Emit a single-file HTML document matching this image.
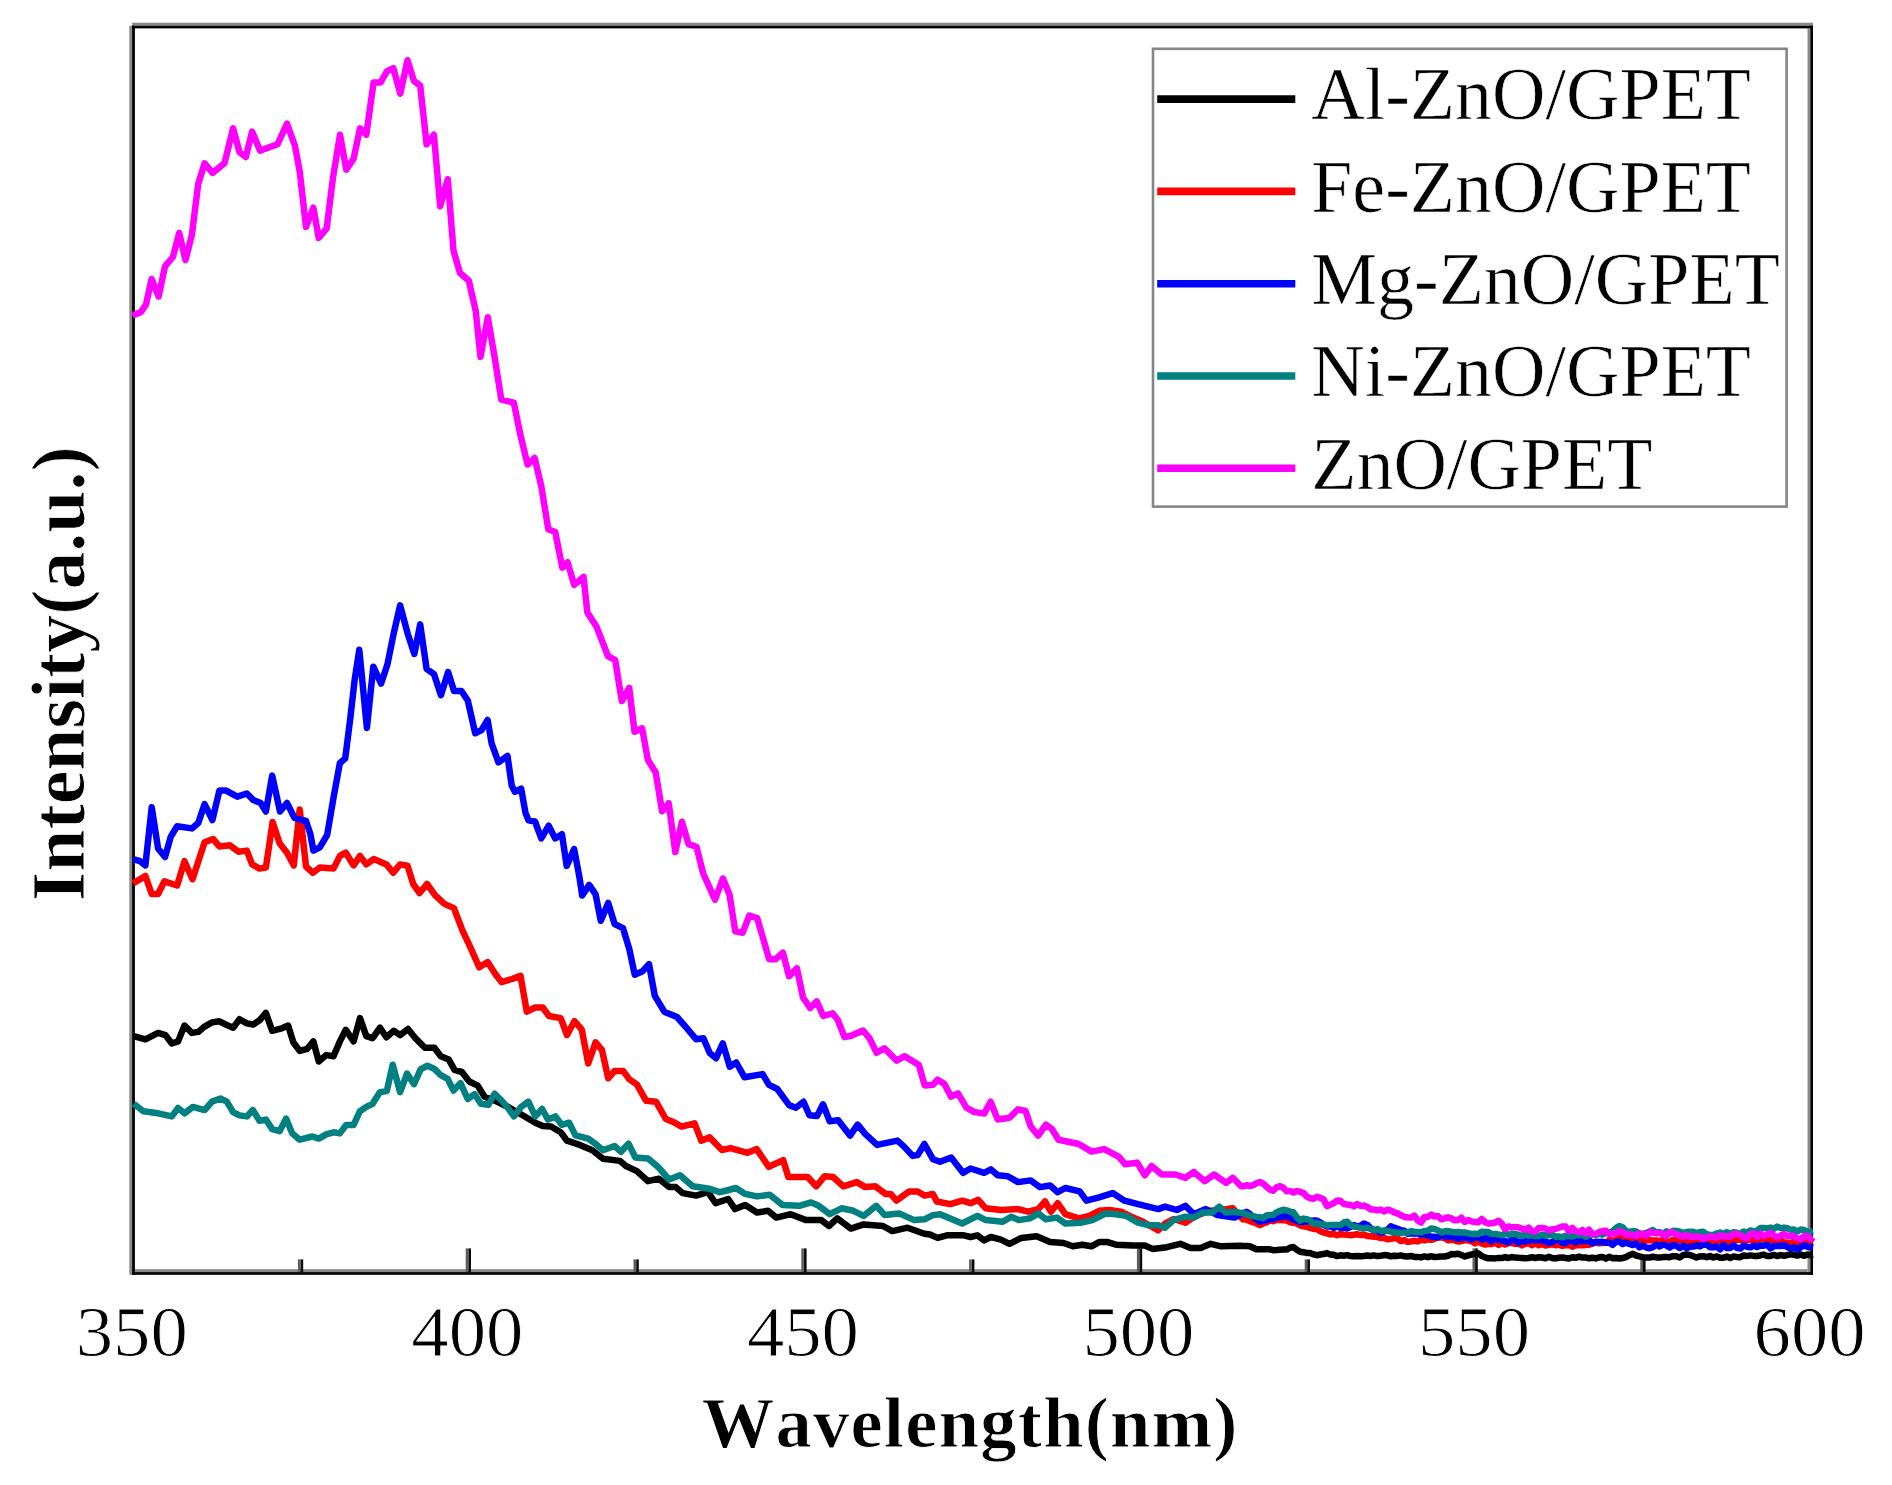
<!DOCTYPE html>
<html lang="en"><head><meta charset="utf-8"><title>PL spectra</title>
<style>html,body{margin:0;padding:0;background:#fff}body{width:1892px;height:1485px;overflow:hidden}svg{display:block}.s{font-family:"Liberation Serif",serif;fill:#000;font-kerning:none}.b{font-weight:bold}.t{stroke:#fff;stroke-width:0.9px}.l{stroke:#fff;stroke-width:0.6px}</style></head><body>
<svg width="1892" height="1485" viewBox="0 0 1892 1485">
<rect width="1892" height="1485" fill="#fff"/>
<rect x="129.3" y="25.7" width="2.8" height="1249.1" fill="#8a8a8a"/>
<rect x="132.1" y="22.7" width="1680.9" height="3.0" fill="#8a8a8a"/>
<rect x="1807.5" y="28.4" width="2.8" height="1243.7" fill="#8a8a8a"/>
<rect x="134.9" y="1269.2" width="1672.6" height="2.9" fill="#8a8a8a"/>
<rect x="132.1" y="25.7" width="2.8" height="1249.1" fill="#000"/>
<rect x="132.1" y="25.7" width="1680.9" height="2.7" fill="#000"/>
<rect x="1810.3" y="25.7" width="2.7" height="1249.1" fill="#000"/>
<rect x="132.1" y="1272.1" width="1680.9" height="2.7" fill="#000"/>
<rect x="297.9" y="1259.4" width="2.6" height="12.7" fill="#5e5e5e"/>
<rect x="300.6" y="1259.4" width="2.6" height="12.7" fill="#0c0c0c"/>
<rect x="465.7" y="1248.4" width="2.6" height="23.7" fill="#5e5e5e"/>
<rect x="468.4" y="1248.4" width="2.6" height="23.7" fill="#0c0c0c"/>
<rect x="633.5" y="1259.4" width="2.6" height="12.7" fill="#5e5e5e"/>
<rect x="636.2" y="1259.4" width="2.6" height="12.7" fill="#0c0c0c"/>
<rect x="801.3" y="1248.4" width="2.6" height="23.7" fill="#5e5e5e"/>
<rect x="804.0" y="1248.4" width="2.6" height="23.7" fill="#0c0c0c"/>
<rect x="969.1" y="1259.4" width="2.6" height="12.7" fill="#5e5e5e"/>
<rect x="971.8" y="1259.4" width="2.6" height="12.7" fill="#0c0c0c"/>
<rect x="1136.9" y="1248.4" width="2.7" height="23.7" fill="#5e5e5e"/>
<rect x="1139.5" y="1248.4" width="2.7" height="23.7" fill="#0c0c0c"/>
<rect x="1304.7" y="1259.4" width="2.7" height="12.7" fill="#5e5e5e"/>
<rect x="1307.3" y="1259.4" width="2.7" height="12.7" fill="#0c0c0c"/>
<rect x="1472.5" y="1248.4" width="2.7" height="23.7" fill="#5e5e5e"/>
<rect x="1475.1" y="1248.4" width="2.7" height="23.7" fill="#0c0c0c"/>
<rect x="1640.3" y="1259.4" width="2.7" height="12.7" fill="#5e5e5e"/>
<rect x="1642.9" y="1259.4" width="2.7" height="12.7" fill="#0c0c0c"/>
<g fill="none" stroke-linejoin="round" stroke-linecap="butt" stroke-width="6.5">
<polyline stroke="#000000" points="133.7,1036.1 145.4,1039.3 158.1,1032.9 165.5,1035.1 171.8,1043.5 178.1,1041.4 184.5,1025.5 191.9,1032.9 198.2,1031.9 204.6,1026.6 212.0,1022.4 219.4,1021.3 225.7,1024.5 233.1,1027.7 239.5,1019.2 246.8,1023.4 253.2,1024.5 259.5,1020.3 265.9,1012.9 272.2,1030.8 280.7,1028.7 288.1,1025.5 293.4,1042.5 299.7,1050.9 307.1,1048.8 313.4,1041.4 318.7,1061.5 326.1,1055.1 333.5,1056.2 339.9,1041.4 345.8,1029.8 353.6,1041.4 360.0,1018.1 366.3,1036.1 372.6,1038.2 380.0,1027.7 386.4,1037.2 393.8,1030.8 400.1,1035.1 408.0,1029.0 414.8,1037.6 424.9,1047.7 434.4,1047.7 440.8,1056.2 448.7,1059.4 454.5,1069.9 461.9,1072.0 469.3,1081.5 477.7,1085.7 484.6,1096.8 498.0,1102.0 510.0,1108.0 522.6,1115.3 535.3,1122.7 542.7,1125.9 551.0,1126.5 560.7,1132.2 567.0,1140.7 579.7,1144.9 592.4,1150.2 603.0,1158.7 620.0,1160.9 625.9,1166.0 636.9,1171.1 647.9,1181.2 658.9,1178.7 669.0,1187.1 675.8,1187.1 682.6,1193.1 696.1,1195.6 707.9,1192.2 715.6,1203.2 728.2,1199.0 735.0,1209.1 745.2,1204.9 757.0,1212.5 768.0,1210.8 776.4,1217.6 790.8,1214.2 806.0,1220.1 821.3,1220.1 828.9,1226.0 837.3,1218.4 850.9,1228.6 863.6,1224.4 883.0,1226.0 892.3,1231.1 907.5,1227.7 924.4,1233.7 930.0,1234.5 937.6,1237.9 946.9,1235.3 963.8,1235.3 970.6,1237.0 977.4,1235.3 984.1,1240.4 990.9,1237.0 1001.0,1239.6 1009.5,1243.8 1021.3,1237.9 1036.6,1236.2 1050.1,1242.1 1063.6,1243.0 1072.9,1246.3 1082.2,1244.7 1091.5,1246.3 1099.1,1242.1 1107.6,1242.1 1116.0,1244.7 1133.0,1245.5 1144.8,1245.5 1152.4,1248.9 1166.8,1247.2 1180.3,1243.8 1190.5,1248.0 1200.6,1248.0 1210.8,1243.8 1220.9,1246.3 1240.0,1245.7 1243.0,1246.0 1246.4,1245.9 1249.7,1246.2 1253.1,1247.8 1256.4,1249.3 1259.8,1249.2 1263.2,1249.3 1266.5,1249.2 1269.9,1249.3 1273.2,1250.2 1276.6,1250.1 1280.0,1249.7 1283.3,1249.4 1286.7,1249.6 1290.0,1247.7 1293.4,1247.0 1296.8,1249.7 1300.1,1251.7 1303.5,1252.3 1306.8,1252.9 1310.2,1253.0 1313.6,1254.4 1316.9,1255.2 1320.3,1254.5 1323.6,1254.1 1327.0,1253.1 1330.4,1254.6 1333.7,1254.8 1337.1,1256.1 1340.4,1255.3 1343.8,1255.7 1347.2,1255.1 1350.5,1256.1 1353.9,1256.2 1357.2,1255.9 1360.6,1256.2 1364.0,1256.0 1367.3,1255.6 1370.7,1255.9 1374.0,1255.4 1377.4,1256.1 1380.8,1255.7 1384.1,1255.1 1387.5,1255.3 1390.8,1256.3 1394.2,1255.7 1397.6,1255.9 1400.9,1255.4 1404.3,1256.3 1407.6,1256.4 1411.0,1256.0 1414.4,1256.9 1417.7,1256.9 1421.1,1257.4 1424.4,1256.4 1427.8,1257.2 1431.2,1256.2 1434.5,1257.1 1437.9,1256.8 1441.2,1256.4 1444.6,1256.5 1448.0,1255.8 1451.3,1254.1 1454.7,1254.2 1458.0,1253.7 1461.4,1255.1 1464.8,1256.5 1468.1,1255.4 1471.5,1254.5 1474.8,1253.9 1478.2,1253.3 1481.6,1255.9 1484.9,1257.4 1488.3,1258.3 1491.6,1258.2 1495.0,1258.4 1498.4,1257.9 1501.7,1258.1 1505.1,1257.1 1508.4,1258.0 1511.8,1257.0 1515.2,1257.6 1518.5,1257.8 1521.9,1257.9 1525.2,1258.3 1528.6,1258.0 1532.0,1257.3 1535.3,1258.0 1538.7,1257.2 1542.0,1257.5 1545.4,1258.3 1548.8,1256.8 1552.1,1258.1 1555.5,1258.4 1558.8,1257.7 1562.2,1257.4 1565.6,1258.0 1568.9,1258.5 1572.3,1257.2 1575.6,1257.8 1579.0,1256.7 1582.4,1257.6 1585.7,1257.5 1589.1,1258.3 1592.4,1257.8 1595.8,1258.4 1599.2,1257.3 1602.5,1256.9 1605.9,1258.6 1609.2,1256.7 1612.6,1258.2 1616.0,1258.0 1619.3,1258.5 1622.7,1258.0 1626.0,1257.1 1629.4,1255.2 1632.8,1253.8 1636.1,1255.5 1639.5,1256.4 1642.8,1257.1 1646.2,1257.6 1649.6,1257.6 1652.9,1256.7 1656.3,1257.4 1659.6,1257.6 1663.0,1257.1 1666.4,1257.1 1669.7,1257.2 1673.1,1256.2 1676.4,1256.3 1679.8,1257.5 1683.2,1255.0 1686.5,1254.6 1689.9,1255.0 1693.2,1256.2 1696.6,1257.5 1700.0,1256.4 1703.3,1256.2 1706.7,1257.2 1710.0,1256.1 1713.4,1257.5 1716.8,1256.4 1720.1,1257.8 1723.5,1257.7 1726.8,1256.6 1730.2,1258.0 1733.6,1256.4 1736.9,1257.0 1740.3,1257.2 1743.6,1255.5 1747.0,1255.9 1750.4,1255.4 1753.7,1255.9 1757.1,1256.1 1760.4,1255.3 1763.8,1254.6 1767.2,1256.1 1770.5,1255.9 1773.9,1254.9 1777.2,1256.0 1780.6,1255.1 1784.0,1255.8 1787.3,1255.1 1790.7,1254.2 1794.0,1254.8 1797.4,1255.6 1800.8,1254.4 1804.1,1255.8 1807.5,1254.6 1810.8,1255.2 1813.0,1254.8"/>
<polyline stroke="#ff0000" points="133.1,883.4 145.4,876.0 151.7,894.0 158.1,894.0 164.4,881.3 177.1,885.5 184.5,861.2 192.5,879.2 204.6,842.2 213.0,839.0 219.4,846.4 229.9,845.3 238.4,851.7 246.8,850.6 252.1,864.4 259.5,868.6 265.9,867.5 272.6,822.0 279.6,843.2 287.0,852.7 293.8,865.4 299.7,809.4 306.0,866.5 312.8,872.8 319.8,867.5 333.5,868.6 339.9,855.9 345.8,852.7 353.6,865.4 360.0,855.9 366.3,864.4 373.7,859.1 386.4,864.4 393.2,872.8 400.1,864.4 407.5,865.6 413.2,884.0 419.6,893.0 427.0,884.0 435.0,895.2 444.4,903.9 453.9,908.1 462.4,930.3 469.8,946.2 479.3,967.3 487.7,962.1 495.1,973.7 501.5,982.1 512.1,979.0 520.5,975.8 526.8,1011.7 535.3,1007.5 542.7,1007.5 549.0,1016.0 560.7,1018.1 567.0,1035.0 574.4,1021.2 581.8,1029.7 588.2,1063.5 595.6,1042.4 601.9,1049.8 608.2,1078.3 614.6,1070.9 623.0,1070.9 629.4,1079.4 636.8,1084.4 646.0,1100.7 656.0,1101.7 665.8,1119.0 672.7,1121.7 681.5,1126.6 694.6,1123.3 701.2,1140.6 709.6,1137.4 722.0,1150.0 730.4,1148.1 747.6,1152.8 756.6,1149.1 768.8,1166.8 783.2,1160.1 788.3,1177.0 807.7,1177.0 816.2,1186.3 824.7,1176.2 833.1,1177.0 843.3,1186.3 856.8,1182.1 865.2,1187.1 875.4,1186.3 885.5,1193.9 890.6,1193.9 896.5,1200.7 909.2,1191.4 917.7,1191.4 924.4,1195.6 932.9,1193.9 936.8,1201.5 950.3,1204.1 962.1,1200.7 970.6,1203.2 978.2,1199.8 985.8,1208.3 1001.0,1210.0 1018.0,1209.1 1028.1,1211.7 1038.2,1209.1 1045.0,1201.5 1050.9,1211.7 1057.7,1203.2 1065.3,1214.2 1078.8,1218.4 1089.0,1215.9 1099.1,1210.8 1109.3,1210.0 1121.1,1211.7 1131.3,1216.7 1143.1,1221.8 1158.3,1230.3 1165.1,1223.5 1173.5,1219.0 1185.4,1222.7 1193.8,1217.0 1209.1,1210.8 1221.0,1210.0 1232.7,1208.3 1242.9,1219.3 1243.0,1218.8 1246.4,1219.7 1249.7,1221.1 1253.1,1222.3 1256.4,1223.4 1259.8,1225.2 1263.2,1223.3 1266.5,1222.3 1269.9,1220.4 1273.2,1221.2 1276.6,1219.7 1280.0,1219.9 1283.3,1220.3 1286.7,1220.4 1290.0,1222.2 1293.4,1222.7 1296.8,1223.5 1300.1,1225.3 1303.5,1226.4 1306.8,1226.9 1310.2,1227.9 1313.6,1228.9 1316.9,1229.1 1320.3,1231.2 1323.6,1232.6 1327.0,1233.3 1330.4,1234.3 1333.7,1234.0 1337.1,1235.2 1340.4,1234.2 1343.8,1234.6 1347.2,1234.8 1350.5,1235.3 1353.9,1234.8 1357.2,1234.2 1360.6,1235.1 1364.0,1234.7 1367.3,1235.9 1370.7,1236.3 1374.0,1236.8 1377.4,1237.0 1380.8,1238.1 1384.1,1237.9 1387.5,1239.2 1390.8,1238.9 1394.2,1238.1 1397.6,1238.6 1400.9,1241.1 1404.3,1240.0 1407.6,1241.8 1411.0,1241.4 1414.4,1240.8 1417.7,1241.4 1421.1,1239.6 1424.4,1240.4 1427.8,1239.3 1431.2,1239.8 1434.5,1238.8 1437.9,1237.3 1441.2,1237.4 1444.6,1238.1 1448.0,1240.2 1451.3,1239.8 1454.7,1240.4 1458.0,1241.5 1461.4,1241.0 1464.8,1240.1 1468.1,1240.4 1471.5,1241.2 1474.8,1243.3 1478.2,1241.4 1481.6,1243.4 1484.9,1244.5 1488.3,1244.0 1491.6,1244.1 1495.0,1242.4 1498.4,1244.9 1501.7,1242.8 1505.1,1244.6 1508.4,1243.1 1511.8,1243.0 1515.2,1243.7 1518.5,1243.5 1521.9,1245.4 1525.2,1243.8 1528.6,1243.2 1532.0,1245.2 1535.3,1243.1 1538.7,1245.3 1542.0,1244.0 1545.4,1245.5 1548.8,1244.8 1552.1,1244.3 1555.5,1245.2 1558.8,1244.5 1562.2,1245.9 1565.6,1245.2 1568.9,1244.9 1572.3,1246.7 1575.6,1245.3 1579.0,1244.9 1582.4,1245.3 1585.7,1244.9 1589.1,1244.8 1592.4,1243.4 1595.8,1242.5 1599.2,1243.2 1602.5,1243.0 1605.9,1242.7 1609.2,1239.9 1612.6,1240.5 1616.0,1240.3 1619.3,1237.1 1622.7,1237.6 1626.0,1239.3 1629.4,1237.7 1632.8,1239.8 1636.1,1238.1 1639.5,1238.4 1642.8,1240.8 1646.2,1240.4 1649.6,1240.0 1652.9,1240.4 1656.3,1240.6 1659.6,1241.0 1663.0,1240.1 1666.4,1241.2 1669.7,1241.9 1673.1,1239.7 1676.4,1240.7 1679.8,1240.4 1683.2,1240.4 1686.5,1242.0 1689.9,1242.8 1693.2,1242.8 1696.6,1240.3 1700.0,1243.0 1703.3,1240.5 1706.7,1241.6 1710.0,1241.8 1713.4,1241.1 1716.8,1241.6 1720.1,1240.9 1723.5,1242.3 1726.8,1242.1 1730.2,1242.5 1733.6,1239.7 1736.9,1239.5 1740.3,1239.8 1743.6,1240.6 1747.0,1239.9 1750.4,1239.6 1753.7,1240.5 1757.1,1240.4 1760.4,1239.1 1763.8,1238.9 1767.2,1240.0 1770.5,1240.0 1773.9,1241.5 1777.2,1241.0 1780.6,1240.2 1784.0,1242.6 1787.3,1243.0 1790.7,1242.9 1794.0,1241.7 1797.4,1243.7 1800.8,1243.1 1804.1,1240.8 1807.5,1243.9 1810.8,1241.0 1813.0,1242.5"/>
<polyline stroke="#0000ff" points="133.1,859.1 140.1,861.2 145.4,865.4 151.7,807.3 158.1,848.5 165.0,857.0 170.7,836.9 177.1,826.3 191.9,828.4 198.2,823.1 204.6,804.1 212.4,820.0 219.4,790.4 225.7,790.4 237.3,796.7 246.8,793.5 253.2,799.9 260.6,803.0 265.9,811.5 272.2,775.6 280.0,811.5 287.0,803.0 294.4,817.8 306.0,821.0 310.3,833.7 313.4,850.6 319.8,847.4 327.2,834.8 333.5,797.8 339.9,762.9 345.2,758.6 350.4,717.4 354.7,679.4 359.3,649.8 366.9,728.0 373.3,666.7 381.1,683.6 387.4,664.6 393.8,632.9 400.1,605.4 407.5,632.9 414.3,654.0 420.2,624.4 426.6,668.8 434.0,674.1 440.9,695.2 448.1,672.0 454.0,691.0 461.4,691.0 467.8,700.5 475.2,733.3 481.5,730.1 487.6,720.0 491.6,743.3 498.5,762.3 507.5,755.9 511.7,785.5 514.9,791.9 521.2,788.7 525.5,813.0 528.6,820.4 535.0,821.5 541.3,838.4 548.7,825.7 555.1,838.4 561.9,834.2 566.7,865.9 574.1,849.0 579.4,877.0 582.2,895.5 589.2,884.9 595.6,894.4 600.8,920.8 608.2,902.9 614.6,924.0 623.0,928.2 629.4,949.4 634.7,974.7 642.1,971.6 649.0,964.2 654.8,995.9 664.3,1011.7 677.0,1017.0 685.4,1026.5 696.0,1039.2 703.4,1038.2 709.7,1053.0 716.1,1058.2 722.8,1043.4 729.8,1066.7 736.2,1062.5 744.6,1077.3 762.6,1074.1 769.0,1084.8 777.3,1089.0 789.1,1105.1 795.9,1107.7 803.5,1101.7 809.4,1115.3 817.0,1116.1 823.0,1104.3 829.7,1121.2 838.2,1120.3 850.0,1135.6 857.6,1124.6 865.2,1133.9 877.1,1144.9 897.4,1140.6 904.1,1146.6 912.6,1155.9 917.7,1155.0 924.4,1144.0 932.9,1159.2 940.1,1161.8 951.1,1157.5 963.0,1172.8 970.6,1168.5 984.1,1172.8 990.9,1169.4 997.7,1175.3 1007.8,1176.2 1018.0,1182.1 1030.6,1180.4 1039.9,1187.1 1050.1,1185.5 1057.7,1192.2 1065.3,1188.0 1079.7,1191.4 1086.4,1200.7 1099.1,1197.3 1112.7,1193.1 1124.5,1200.7 1138.0,1204.1 1158.3,1209.1 1165.1,1206.6 1176.9,1210.0 1185.4,1205.8 1193.8,1214.2 1205.7,1209.1 1217.5,1215.1 1234.4,1217.6 1243.0,1213.6 1246.4,1211.9 1249.7,1213.8 1253.1,1217.1 1256.4,1219.3 1259.8,1221.6 1263.2,1220.6 1266.5,1220.4 1269.9,1218.7 1273.2,1219.3 1276.6,1217.0 1280.0,1217.4 1283.3,1216.4 1286.7,1215.8 1290.0,1218.0 1293.4,1219.2 1296.8,1221.0 1300.1,1222.1 1303.5,1221.9 1306.8,1221.2 1310.2,1221.0 1313.6,1220.5 1316.9,1220.6 1320.3,1222.3 1323.6,1224.8 1327.0,1226.5 1330.4,1226.2 1333.7,1227.9 1337.1,1226.1 1340.4,1227.9 1343.8,1227.5 1347.2,1228.2 1350.5,1226.9 1353.9,1225.0 1357.2,1226.4 1360.6,1225.8 1364.0,1223.5 1367.3,1224.9 1370.7,1228.3 1374.0,1230.5 1377.4,1230.6 1380.8,1232.7 1384.1,1231.4 1387.5,1229.7 1390.8,1226.4 1394.2,1227.7 1397.6,1228.8 1400.9,1230.3 1404.3,1230.8 1407.6,1233.7 1411.0,1233.2 1414.4,1233.5 1417.7,1233.5 1421.1,1234.7 1424.4,1234.0 1427.8,1235.1 1431.2,1236.8 1434.5,1236.7 1437.9,1237.4 1441.2,1235.0 1444.6,1236.3 1448.0,1237.3 1451.3,1235.4 1454.7,1238.0 1458.0,1238.4 1461.4,1238.3 1464.8,1237.3 1468.1,1238.0 1471.5,1239.5 1474.8,1237.0 1478.2,1237.3 1481.6,1239.6 1484.9,1237.8 1488.3,1239.1 1491.6,1241.1 1495.0,1238.8 1498.4,1239.5 1501.7,1240.6 1505.1,1241.0 1508.4,1242.4 1511.8,1239.7 1515.2,1240.0 1518.5,1242.9 1521.9,1240.6 1525.2,1241.4 1528.6,1240.9 1532.0,1239.7 1535.3,1240.2 1538.7,1239.7 1542.0,1240.2 1545.4,1241.5 1548.8,1242.7 1552.1,1242.1 1555.5,1240.1 1558.8,1239.3 1562.2,1242.6 1565.6,1243.1 1568.9,1240.7 1572.3,1240.4 1575.6,1242.4 1579.0,1239.6 1582.4,1241.3 1585.7,1240.9 1589.1,1240.2 1592.4,1243.3 1595.8,1241.7 1599.2,1242.1 1602.5,1241.8 1605.9,1242.8 1609.2,1242.4 1612.6,1244.9 1616.0,1242.0 1619.3,1241.6 1622.7,1244.0 1626.0,1242.5 1629.4,1244.0 1632.8,1245.1 1636.1,1243.3 1639.5,1247.3 1642.8,1245.7 1646.2,1247.5 1649.6,1248.2 1652.9,1247.2 1656.3,1244.5 1659.6,1246.5 1663.0,1244.5 1666.4,1245.5 1669.7,1247.5 1673.1,1245.1 1676.4,1245.7 1679.8,1248.0 1683.2,1245.7 1686.5,1248.2 1689.9,1246.7 1693.2,1246.6 1696.6,1245.4 1700.0,1246.4 1703.3,1244.7 1706.7,1244.5 1710.0,1247.3 1713.4,1247.3 1716.8,1246.3 1720.1,1249.3 1723.5,1245.0 1726.8,1248.0 1730.2,1248.0 1733.6,1245.3 1736.9,1247.8 1740.3,1248.5 1743.6,1245.5 1747.0,1246.7 1750.4,1247.3 1753.7,1245.5 1757.1,1247.0 1760.4,1245.5 1763.8,1245.7 1767.2,1244.7 1770.5,1248.4 1773.9,1246.0 1777.2,1246.0 1780.6,1246.1 1784.0,1245.0 1787.3,1247.1 1790.7,1248.3 1794.0,1247.3 1797.4,1249.5 1800.8,1247.3 1804.1,1245.3 1807.5,1246.8 1810.8,1247.0 1813.0,1247.6"/>
<polyline stroke="#008080" points="133.7,1103.8 143.3,1111.2 158.1,1113.3 171.8,1116.4 178.1,1108.0 184.5,1113.3 192.9,1106.9 204.6,1110.1 212.0,1101.6 220.4,1098.5 226.8,1101.6 233.1,1112.2 239.5,1115.4 246.8,1116.4 252.8,1110.1 259.5,1120.7 265.9,1119.6 272.2,1129.1 279.6,1131.2 286.0,1118.6 292.3,1133.4 299.7,1139.7 312.4,1136.5 318.7,1138.6 326.1,1134.4 333.5,1132.3 339.9,1133.4 346.2,1124.9 353.6,1124.9 360.0,1111.2 366.3,1106.9 372.6,1103.8 380.0,1092.1 386.8,1091.1 392.7,1064.7 400.1,1092.1 407.0,1073.6 414.0,1084.2 420.6,1069.4 427.5,1065.7 434.4,1068.9 440.8,1075.2 447.6,1078.9 453.5,1090.5 460.5,1083.2 467.7,1099.0 474.6,1094.2 480.9,1103.8 488.3,1104.8 494.7,1093.7 502.0,1101.0 507.8,1107.9 514.0,1116.4 521.0,1107.0 528.3,1101.6 535.3,1116.4 542.1,1109.0 548.0,1119.6 555.4,1116.4 561.7,1124.8 569.1,1122.7 575.5,1135.4 588.2,1138.6 595.6,1143.9 603.0,1150.2 614.6,1146.0 621.0,1151.8 628.5,1143.6 635.4,1157.5 648.1,1158.4 658.1,1166.9 669.0,1179.5 680.0,1175.3 692.7,1186.3 709.6,1188.8 719.8,1192.2 726.6,1190.5 735.9,1188.0 745.2,1193.9 757.0,1196.4 769.7,1194.8 782.4,1204.9 799.3,1205.8 811.1,1202.4 818.7,1205.8 829.7,1214.2 841.6,1208.3 853.4,1210.8 863.6,1215.9 876.2,1205.8 884.7,1215.1 899.1,1213.4 914.3,1220.1 924.4,1219.3 932.9,1215.1 940.1,1214.2 952.0,1219.3 962.1,1223.5 977.4,1215.9 985.8,1220.1 1002.7,1221.8 1011.2,1216.7 1018.8,1220.1 1029.8,1218.4 1038.2,1213.4 1045.9,1219.3 1056.9,1217.6 1065.3,1223.5 1080.5,1222.7 1092.4,1220.1 1105.9,1213.4 1116.0,1214.2 1126.2,1215.9 1138.0,1222.7 1148.2,1225.2 1158.3,1225.2 1165.1,1227.7 1173.5,1220.1 1185.4,1216.7 1193.8,1217.6 1202.3,1212.5 1212.4,1212.5 1219.2,1206.6 1226.0,1212.5 1234.4,1211.7 1242.9,1213.4 1243.0,1212.7 1246.4,1214.3 1249.7,1215.4 1253.1,1216.3 1256.4,1216.9 1259.8,1217.3 1263.2,1217.9 1266.5,1215.5 1269.9,1215.0 1273.2,1215.0 1276.6,1212.4 1280.0,1210.8 1283.3,1209.8 1286.7,1210.4 1290.0,1211.6 1293.4,1212.3 1296.8,1217.2 1300.1,1220.7 1303.5,1218.6 1306.8,1219.2 1310.2,1220.6 1313.6,1223.9 1316.9,1223.3 1320.3,1224.4 1323.6,1224.2 1327.0,1225.5 1330.4,1225.0 1333.7,1225.1 1337.1,1225.1 1340.4,1225.1 1343.8,1222.5 1347.2,1221.7 1350.5,1225.2 1353.9,1226.6 1357.2,1227.0 1360.6,1228.0 1364.0,1228.4 1367.3,1227.8 1370.7,1229.0 1374.0,1230.2 1377.4,1229.1 1380.8,1231.3 1384.1,1230.4 1387.5,1231.0 1390.8,1231.6 1394.2,1232.3 1397.6,1232.6 1400.9,1232.9 1404.3,1232.4 1407.6,1232.7 1411.0,1231.1 1414.4,1231.7 1417.7,1231.9 1421.1,1232.2 1424.4,1230.9 1427.8,1230.8 1431.2,1228.6 1434.5,1228.9 1437.9,1230.4 1441.2,1232.4 1444.6,1231.5 1448.0,1231.1 1451.3,1231.8 1454.7,1232.5 1458.0,1232.0 1461.4,1232.4 1464.8,1232.4 1468.1,1233.3 1471.5,1233.9 1474.8,1233.8 1478.2,1233.9 1481.6,1231.7 1484.9,1232.0 1488.3,1232.1 1491.6,1234.0 1495.0,1233.9 1498.4,1234.5 1501.7,1235.3 1505.1,1233.5 1508.4,1234.7 1511.8,1233.8 1515.2,1233.9 1518.5,1234.8 1521.9,1236.1 1525.2,1234.1 1528.6,1235.8 1532.0,1235.3 1535.3,1235.9 1538.7,1236.1 1542.0,1234.7 1545.4,1235.7 1548.8,1235.0 1552.1,1234.8 1555.5,1236.7 1558.8,1236.5 1562.2,1237.3 1565.6,1235.8 1568.9,1236.1 1572.3,1236.3 1575.6,1235.2 1579.0,1234.7 1582.4,1234.9 1585.7,1236.8 1589.1,1235.0 1592.4,1234.1 1595.8,1234.9 1599.2,1233.8 1602.5,1234.6 1605.9,1233.0 1609.2,1232.4 1612.6,1231.2 1616.0,1228.1 1619.3,1226.1 1622.7,1227.3 1626.0,1231.1 1629.4,1231.9 1632.8,1231.1 1636.1,1231.4 1639.5,1233.7 1642.8,1233.9 1646.2,1233.0 1649.6,1231.5 1652.9,1230.1 1656.3,1232.6 1659.6,1232.0 1663.0,1233.8 1666.4,1231.4 1669.7,1233.3 1673.1,1230.8 1676.4,1231.0 1679.8,1231.7 1683.2,1233.1 1686.5,1232.0 1689.9,1231.8 1693.2,1231.8 1696.6,1233.3 1700.0,1232.1 1703.3,1231.8 1706.7,1234.3 1710.0,1234.9 1713.4,1235.0 1716.8,1233.4 1720.1,1232.6 1723.5,1234.0 1726.8,1232.2 1730.2,1233.9 1733.6,1232.2 1736.9,1232.8 1740.3,1233.7 1743.6,1231.6 1747.0,1233.0 1750.4,1230.4 1753.7,1231.4 1757.1,1230.8 1760.4,1228.0 1763.8,1228.1 1767.2,1228.5 1770.5,1227.7 1773.9,1228.7 1777.2,1226.6 1780.6,1228.1 1784.0,1227.6 1787.3,1228.2 1790.7,1230.0 1794.0,1229.6 1797.4,1231.5 1800.8,1229.5 1804.1,1230.0 1807.5,1232.1 1810.8,1231.6 1813.0,1231.0"/>
<polyline stroke="#ff00ff" points="132.6,315.6 141.0,312.0 146.0,304.5 151.6,279.0 158.6,296.5 165.0,266.4 172.9,257.0 179.2,233.0 185.5,260.0 191.9,234.7 198.2,184.0 204.6,163.3 212.5,172.9 224.5,163.3 233.1,128.4 239.5,152.2 245.8,157.0 252.1,131.6 260.0,150.6 277.5,144.3 287.0,123.7 295.0,146.0 299.7,171.3 306.0,226.8 313.4,207.7 318.7,237.9 326.7,228.4 333.0,177.6 340.0,134.8 346.3,169.7 353.6,158.6 360.0,128.4 366.3,134.8 373.6,82.5 380.6,82.5 386.9,71.4 393.3,68.2 400.3,93.6 407.5,60.3 413.9,80.9 420.2,85.6 426.6,144.3 433.9,134.8 440.2,206.2 447.8,179.2 453.5,250.6 459.9,272.8 468.8,280.7 475.7,310.8 480.5,356.8 487.8,317.2 494.8,358.4 501.3,399.7 513.8,402.6 520.4,435.0 527.6,464.5 534.6,458.0 541.2,485.7 548.3,529.3 555.2,532.0 562.3,567.6 567.6,562.3 574.2,584.8 583.5,576.9 587.4,612.6 596.7,627.1 608.0,656.2 615.2,660.1 621.8,701.1 629.2,687.9 634.5,731.7 642.1,728.3 647.9,760.0 655.7,772.5 662.1,811.2 668.7,803.2 675.3,852.1 681.9,821.7 688.5,844.2 696.5,846.8 703.1,873.3 715.0,899.7 722.9,878.6 729.5,894.4 735.3,931.4 742.7,932.7 749.3,915.6 757.2,918.2 769.1,959.2 775.7,959.2 782.9,952.6 789.0,976.3 796.9,968.4 803.0,997.5 810.1,1008.0 816.7,1001.4 823.3,1016.0 832.6,1013.3 837.8,1020.0 844.5,1037.1 851.1,1035.8 863.0,1030.5 869.6,1038.4 876.6,1052.8 884.4,1048.3 896.7,1060.6 904.8,1056.2 918.9,1065.1 924.7,1085.4 932.9,1084.8 937.6,1079.7 944.4,1084.0 951.1,1096.7 957.9,1093.3 966.4,1107.7 974.0,1111.9 984.1,1113.6 990.6,1101.7 997.7,1119.5 1009.5,1117.8 1018.0,1109.3 1025.6,1111.0 1030.6,1126.3 1038.2,1135.6 1045.9,1124.6 1051.8,1128.8 1058.5,1139.8 1078.8,1144.0 1091.5,1151.6 1104.2,1149.1 1118.6,1156.7 1125.3,1164.3 1137.2,1162.6 1144.8,1175.3 1151.6,1166.0 1161.7,1174.5 1175.2,1174.5 1185.4,1177.8 1193.8,1171.9 1204.8,1181.2 1214.1,1174.5 1226.0,1182.9 1232.7,1177.8 1241.2,1186.3 1243.0,1186.3 1246.4,1185.3 1249.7,1186.0 1253.1,1185.2 1256.4,1183.2 1259.8,1182.0 1263.2,1183.7 1266.5,1186.7 1269.9,1189.6 1273.2,1190.7 1276.6,1187.3 1280.0,1186.2 1283.3,1187.7 1286.7,1191.4 1290.0,1190.9 1293.4,1192.5 1296.8,1191.0 1300.1,1191.8 1303.5,1193.1 1306.8,1196.6 1310.2,1198.2 1313.6,1198.8 1316.9,1196.8 1320.3,1197.9 1323.6,1199.5 1327.0,1206.1 1330.4,1204.7 1333.7,1203.1 1337.1,1200.6 1340.4,1200.8 1343.8,1204.0 1347.2,1204.5 1350.5,1204.9 1353.9,1206.4 1357.2,1204.0 1360.6,1206.1 1364.0,1205.6 1367.3,1207.0 1370.7,1209.4 1374.0,1209.6 1377.4,1210.2 1380.8,1209.7 1384.1,1211.4 1387.5,1209.8 1390.8,1210.5 1394.2,1212.3 1397.6,1213.4 1400.9,1215.3 1404.3,1216.9 1407.6,1217.3 1411.0,1217.6 1414.4,1215.7 1417.7,1220.5 1421.1,1222.5 1424.4,1217.0 1427.8,1216.9 1431.2,1214.6 1434.5,1216.6 1437.9,1215.9 1441.2,1219.3 1444.6,1218.4 1448.0,1217.3 1451.3,1218.4 1454.7,1220.3 1458.0,1219.9 1461.4,1217.7 1464.8,1221.9 1468.1,1220.0 1471.5,1221.4 1474.8,1222.0 1478.2,1222.3 1481.6,1219.0 1484.9,1222.0 1488.3,1223.5 1491.6,1223.3 1495.0,1222.5 1498.4,1220.8 1501.7,1223.5 1505.1,1229.3 1508.4,1226.4 1511.8,1227.4 1515.2,1226.9 1518.5,1227.4 1521.9,1228.7 1525.2,1229.8 1528.6,1227.7 1532.0,1231.5 1535.3,1231.6 1538.7,1228.0 1542.0,1227.9 1545.4,1228.5 1548.8,1230.6 1552.1,1229.3 1555.5,1229.0 1558.8,1227.8 1562.2,1226.6 1565.6,1226.5 1568.9,1231.2 1572.3,1228.0 1575.6,1231.2 1579.0,1232.2 1582.4,1229.9 1585.7,1233.5 1589.1,1229.8 1592.4,1234.2 1595.8,1234.0 1599.2,1232.0 1602.5,1231.1 1605.9,1230.8 1609.2,1234.4 1612.6,1233.4 1616.0,1233.5 1619.3,1231.0 1622.7,1232.0 1626.0,1234.7 1629.4,1234.0 1632.8,1235.2 1636.1,1236.2 1639.5,1233.3 1642.8,1234.2 1646.2,1236.1 1649.6,1231.7 1652.9,1232.8 1656.3,1233.3 1659.6,1232.9 1663.0,1234.1 1666.4,1236.3 1669.7,1232.1 1673.1,1232.5 1676.4,1234.7 1679.8,1235.5 1683.2,1236.7 1686.5,1234.8 1689.9,1237.2 1693.2,1236.4 1696.6,1236.8 1700.0,1236.8 1703.3,1239.0 1706.7,1237.4 1710.0,1236.3 1713.4,1237.0 1716.8,1237.7 1720.1,1235.0 1723.5,1236.4 1726.8,1236.3 1730.2,1236.8 1733.6,1233.9 1736.9,1233.7 1740.3,1235.0 1743.6,1237.5 1747.0,1238.2 1750.4,1233.9 1753.7,1233.3 1757.1,1237.0 1760.4,1233.3 1763.8,1236.0 1767.2,1234.8 1770.5,1232.9 1773.9,1235.4 1777.2,1237.5 1780.6,1235.4 1784.0,1233.9 1787.3,1236.3 1790.7,1235.7 1794.0,1236.0 1797.4,1238.5 1800.8,1239.0 1804.1,1236.0 1807.5,1236.0 1810.8,1239.0 1813.0,1237.0"/>
</g>
<rect x="1153.0" y="48.8" width="633.6" height="457.8" fill="#fff" stroke="#858585" stroke-width="2.6"/>
<line x1="1157.2" y1="99.1" x2="1295.3" y2="99.1" stroke="#000000" stroke-width="7.6"/>
<text class="s l" x="1311.2" y="119.3" font-size="74">Al-ZnO/GPET</text>
<line x1="1157.2" y1="191.4" x2="1295.3" y2="191.4" stroke="#ff0000" stroke-width="7.6"/>
<text class="s l" x="1311.2" y="211.6" font-size="74">Fe-ZnO/GPET</text>
<line x1="1157.2" y1="283.7" x2="1295.3" y2="283.7" stroke="#0000ff" stroke-width="7.6"/>
<text class="s l" x="1311.2" y="303.9" font-size="74">Mg-ZnO/GPET</text>
<line x1="1157.2" y1="376.0" x2="1295.3" y2="376.0" stroke="#008080" stroke-width="7.6"/>
<text class="s l" x="1311.2" y="396.2" font-size="74">Ni-ZnO/GPET</text>
<line x1="1157.2" y1="468.3" x2="1295.3" y2="468.3" stroke="#ff00ff" stroke-width="7.6"/>
<text class="s l" x="1311.2" y="488.5" font-size="74">ZnO/GPET</text>
<text class="s t" transform="translate(131.7,1355.7) scale(1.032,1)" font-size="72.4" text-anchor="middle">350</text>
<text class="s t" transform="translate(467.3,1355.7) scale(1.032,1)" font-size="72.4" text-anchor="middle">400</text>
<text class="s t" transform="translate(802.9,1355.7) scale(1.032,1)" font-size="72.4" text-anchor="middle">450</text>
<text class="s t" transform="translate(1138.4,1355.7) scale(1.032,1)" font-size="72.4" text-anchor="middle">500</text>
<text class="s t" transform="translate(1474.0,1355.7) scale(1.032,1)" font-size="72.4" text-anchor="middle">550</text>
<text class="s t" transform="translate(1809.6,1355.7) scale(1.032,1)" font-size="72.4" text-anchor="middle">600</text>
<text class="s b t" transform="translate(970.2,1446.5)" letter-spacing="1.25" font-size="72.5" text-anchor="middle">Wavelength(nm)</text>
<text class="s b t" transform="translate(83.8,673.8) rotate(-90) scale(0.985,1)" font-size="77" text-anchor="middle">Intensity(a.u.)</text>
</svg></body></html>
